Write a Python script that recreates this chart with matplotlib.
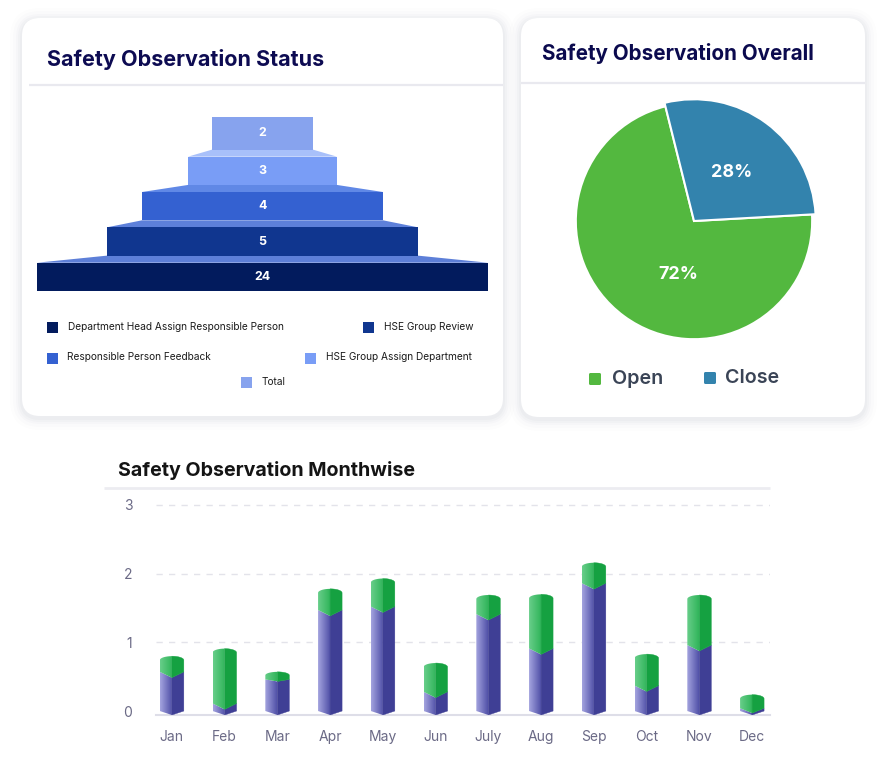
import numpy as np
import matplotlib
matplotlib.use("Agg")
import matplotlib.pyplot as plt
from matplotlib.patches import FancyBboxPatch, Polygon, Rectangle
from matplotlib.colors import LinearSegmentedColormap

plt.rcParams['font.family'] = ['Inter', 'DejaVu Sans']

# ---------------- data ----------------
funnel_stages = ["Department Head Assign Responsible Person", "HSE Group Review",
                 "Responsible Person Feedback", "HSE Group Assign Department", "Total"]
funnel_values = [24, 5, 4, 3, 2]

pie_labels = ["Open", "Close"]
pie_values = [72, 28]

months = ["Jan", "Feb", "Mar", "Apr", "May", "Jun", "July", "Aug", "Sep", "Oct", "Nov", "Dec"]
purple_vals = [0.57, 0.11, 0.46, 1.47, 1.52, 0.28, 1.41, 0.91, 1.86, 0.37, 0.96, 0.04]
green_vals = [0.17, 0.74, 0.06, 0.25, 0.35, 0.36, 0.22, 0.73, 0.24, 0.40, 0.67, 0.14]
y_ticks = [0, 1, 2, 3]

# ---------------- figure ----------------
W, H = 885, 759
fig = plt.figure(figsize=(W / 100, H / 100), dpi=100)
fig.patch.set_facecolor('white')
renderer = fig.canvas.get_renderer()

bg = fig.add_axes([0, 0, 1, 1])
bg.set_xlim(0, W)
bg.set_ylim(H, 0)
bg.axis('off')


def px_axes(x0, y0, x1, y1):
    return fig.add_axes([x0 / W, 1 - y1 / H, (x1 - x0) / W, (y1 - y0) / H])


def fit(t, target_w):
    bb = t.get_window_extent(renderer)
    t.set_fontsize(t.get_fontsize() * target_w / bb.width)
    return t.get_fontsize()


def card(x0, y0, x1, y1, r=18):
    for grow, alpha in [(12, 0.008), (9, 0.012), (6, 0.016), (4, 0.02), (2, 0.022)]:
        bg.add_patch(FancyBboxPatch((x0 - grow, y0 - grow + 2), (x1 - x0) + 2 * grow,
                                    (y1 - y0) + 2 * grow,
                                    boxstyle=f"round,pad=0,rounding_size={r + grow}",
                                    fc='#27305a', ec='none', alpha=alpha))
    bg.add_patch(FancyBboxPatch((x0, y0), x1 - x0, y1 - y0,
                                boxstyle=f"round,pad=0,rounding_size={r}",
                                fc='white', ec='none'))


card(22, 18, 503, 416)
card(521, 18, 865, 417)

# titles / dividers
t1 = bg.text(47, 66, "Safety Observation Status", fontsize=15, fontweight='bold',
             color='#0d0b52', va='baseline', ha='left')
fit(t1, 277)
bg.plot([29, 503], [85, 85], color='#e9e9ef', lw=1.6, solid_capstyle='butt')

t2 = bg.text(542, 60, "Safety Observation Overall", fontsize=15, fontweight='bold',
             color='#0b0a4e', va='baseline', ha='left')
fit(t2, 272)
bg.plot([521, 865], [83, 83], color='#e9e9ef', lw=1.6, solid_capstyle='butt')

t3 = bg.text(118, 476, "Safety Observation Monthwise", fontsize=14, fontweight='bold',
             color='#141414', va='baseline', ha='left')
fit(t3, 298)
bg.plot([104, 770], [488, 488], color='#ececf1', lw=2, solid_capstyle='butt')

# ---------------- funnel ----------------
fa = px_axes(37, 116.7, 488, 291)
span = [1.0, 0.69, 0.534, 0.33, 0.223]
bar_h = [0.8, 0.8, 0.8, 0.8, 0.93]
bar_colors = ['#021b5d', '#10368f', '#3461d1', '#799df6', '#87a3ee']
conn_colors = ['#5d7fd8', '#5d80da', '#6088e6', '#a8c0fa']
levels = np.arange(len(funnel_values))
fa.barh(levels - 0.4, span, height=bar_h, left=[-s / 2 for s in span],
        align='edge', color=bar_colors, edgecolor='none', zorder=3)
for i in range(len(funnel_values) - 1):
    s0, s1 = span[i], span[i + 1]
    fa.fill([-s1 / 2, s1 / 2, s0 / 2, -s0 / 2], [i + 0.6, i + 0.6, i + 0.4, i + 0.4],
            color=conn_colors[i], lw=0, zorder=2)
for i, v in enumerate(funnel_values):
    fa.text(0, i - 0.4 + bar_h[i] / 2, str(v), ha='center', va='center', color='white',
            fontsize=9, fontweight='bold', zorder=4)
fa.set_xlim(-0.5, 0.5)
fa.set_ylim(-0.4, 4.53)
fa.axis('off')

# funnel legend (square left x, square top y, text x, text center y)
leg_layout = [(47, 322, 68, 327.5), (363, 322, 384, 327.5), (47, 353, 67, 357),
              (305, 353, 326, 357), (241, 377, 262, 382)]
leg_texts = []
for (sx, sy, tx, ty), name, col in zip(leg_layout, funnel_stages, bar_colors):
    bg.add_patch(Rectangle((sx, sy), 11, 11, fc=col, ec='none'))
    leg_texts.append(bg.text(tx, ty, name, fontsize=7.5, color='#1c1c1c',
                             va='center', ha='left'))
fs = fit(leg_texts[0], 217)
for t in leg_texts:
    t.set_fontsize(fs)

# ---------------- pie ----------------
cx, cy, half = 694, 221, 130
pa = px_axes(cx - half, cy - half, cx + half, cy + half)
pie_colors = ['#53b83f', '#3383ad']
wedges, _ = pa.pie(pie_values, colors=pie_colors, startangle=104, counterclock=True,
                   wedgeprops=dict(edgecolor='white', linewidth=1.5), radius=1.0)
wedges[1].set_radius(1.03)
pa.set_xlim(-1.1, 1.1)
pa.set_ylim(-1.1, 1.1)
pa.set_aspect('equal')
label_pos = [(254, 0.47), (52, 0.52)]
total = sum(pie_values)
pct_texts = []
for (ang, r), v in zip(label_pos, pie_values):
    a = np.deg2rad(ang)
    pct_texts.append(pa.text(r * np.cos(a), r * np.sin(a), f"{v / total * 100:.0f}%",
                             ha='center', va='center', color='white', fontsize=14,
                             fontweight='bold'))
fs = fit(pct_texts[1], 41)
pct_texts[0].set_fontsize(fs)

pie_leg = [(589, 373, 612, 379), (704, 372, 725, 378)]
pl = []
for (sx, sy, tx, ty), name, col in zip(pie_leg, pie_labels, pie_colors):
    bg.add_patch(FancyBboxPatch((sx, sy), 12, 12, boxstyle="round,pad=0,rounding_size=1.5",
                                fc=col, ec='none'))
    pl.append(bg.text(tx, ty, name, fontsize=14, color='#3a4456', fontweight='semibold',
                      va='center', ha='left'))
fs = fit(pl[1], 54)
pl[0].set_fontsize(fs)

# ---------------- monthly bars ----------------
ba = px_axes(156, 495, 770, 715)
hw = 0.2275
d_bot, d_mid, d_top = 0.058, 0.087, 0.058

purple_grad = ('#a4a4df', '#4b4ba4')
purple_dark = '#3f3f95'
green_grad = ('#68ce8a', '#2db357')
green_dark = '#15a141'


def grad_face(verts, c_from, c_to, x0, x1, z=3):
    verts = np.asarray(verts)
    poly = Polygon(verts, closed=True, fc='none', ec='none')
    ba.add_patch(poly)
    cmap = LinearSegmentedColormap.from_list('g', [c_from, c_to])
    y0, y1 = verts[:, 1].min(), verts[:, 1].max()
    im = ba.imshow(np.linspace(0, 1, 64).reshape(1, -1), cmap=cmap,
                   extent=[x0, x1, y0, y1], aspect='auto', origin='lower',
                   interpolation='bilinear', zorder=z)
    im.set_clip_path(poly)


def flat_face(verts, color, z=3):
    ba.add_patch(Polygon(verts, closed=True, fc=color, ec=color, lw=0.3, zorder=z))


theta = np.linspace(0, np.pi / 2, 20)
for i, (p, g) in enumerate(zip(purple_vals, green_vals)):
    xc = i
    t = p + g
    dm = min(d_mid, 0.5 * g)
    dt = min(d_top, 0.5 * g + 0.02)
    # purple segment
    left = [(xc - hw, 0), (xc, -d_bot), (xc, p - dm), (xc - hw, p)]
    right = [(xc + hw, 0), (xc, -d_bot), (xc, p - dm), (xc + hw, p)]
    grad_face(left, purple_grad[0], purple_grad[1], xc - hw, xc)
    flat_face(right, purple_dark)
    # green segment with dome top
    arc_l = [(xc - hw * np.cos(a), t + dt * np.sin(a)) for a in theta]
    arc_r = [(xc + hw * np.cos(a), t + dt * np.sin(a)) for a in theta]
    left_g = [(xc - hw, p), (xc, p - dm)] + arc_l[::-1]
    right_g = [(xc + hw, p), (xc, p - dm)] + arc_r[::-1]
    grad_face(left_g, green_grad[0], green_grad[1], xc - hw, xc, z=4)
    flat_face(right_g, green_dark, z=4)

ba.set_xlim(-0.30, 11.34)
ba.set_ylim(-0.058, 3.144)
for yv in y_ticks[1:]:
    ba.axhline(yv, color='#e3e3ea', lw=1, ls=(0, (4.5, 4.5)), zorder=1)
ba.set_yticks(y_ticks)
ba.set_yticklabels([str(v) for v in y_ticks])
ba.set_xticks(range(len(months)))
ba.set_xticklabels(months)
ba.tick_params(axis='both', length=0, colors='#6b6a86', labelsize=10)
ba.tick_params(axis='y', pad=17)
ba.tick_params(axis='x', pad=10.5)
for s in ['top', 'right', 'left']:
    ba.spines[s].set_visible(False)
ba.spines['bottom'].set_color('#dedee8')
ba.spines['bottom'].set_linewidth(1.5)
ba.set_facecolor('none')

fig.savefig('out.png', dpi=100, facecolor='white')
